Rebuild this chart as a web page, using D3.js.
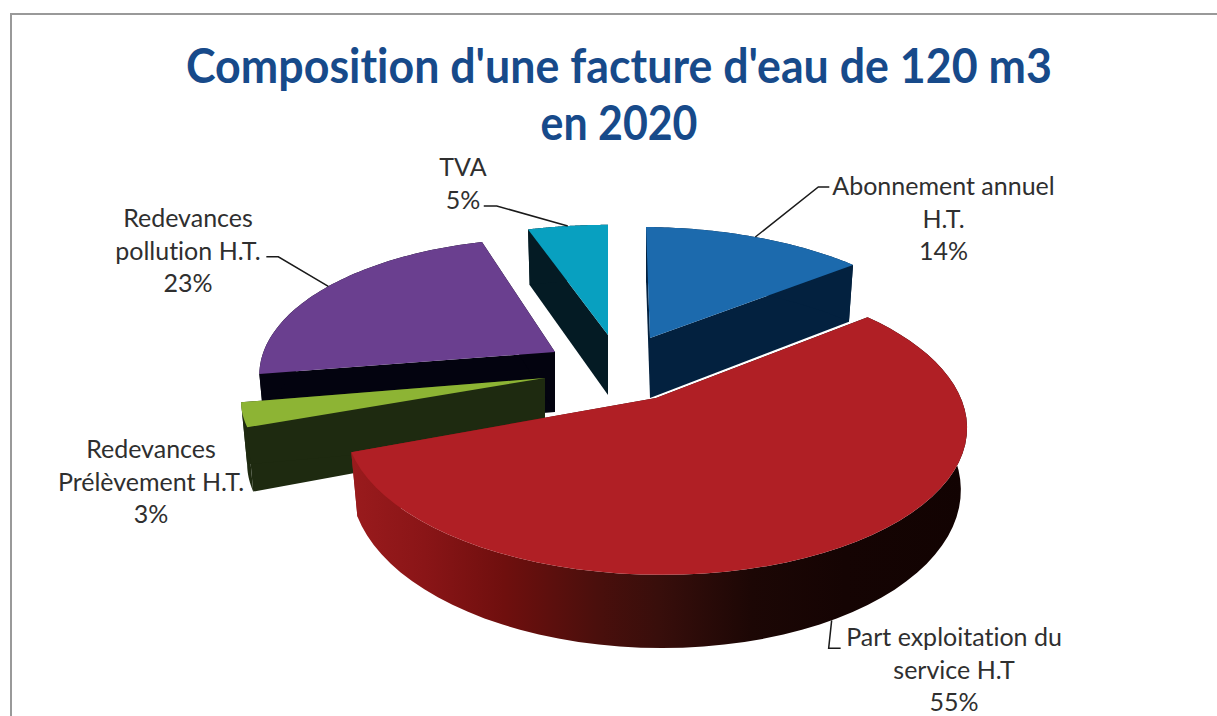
<!DOCTYPE html>
<html><head><meta charset="utf-8">
<script src="https://cdnjs.cloudflare.com/ajax/libs/d3/7.8.5/d3.min.js"></script>
<style>html,body{margin:0;background:#fff}svg{display:block}text{font-family:Lato,"Open Sans",sans-serif;font-variant-ligatures:none}</style>
</head><body><svg id="c" width="1217" height="716"></svg>
<script>
const categories=["Abonnement annuel H.T.","Part exploitation du service H.T","Redevances Prélèvement H.T.","Redevances pollution H.T.","TVA"];
const values=[14,55,3,23,5];
const titleLines=["Composition d'une facture d'eau de 120 m3","en 2020"];
const titleWidths=[866,157];
const labelLines=[["Abonnement annuel","H.T.","14%"],["Part exploitation du","service H.T","55%"],["Redevances","Prélèvement H.T.","3%"],["Redevances","pollution H.T.","23%"],["TVA","5%"]];
const topColors=["#1c6aad","#b01f25","#8db434","#6a3f8f","#08a0c0"];
const sideColors=["#03213f",null,"#1e2a10","#03030f","#041b24"];
// per-slice projection: apex position, ellipse radii, small shear/tilt (exploded 3D view)
const geom=[
 {ax:650,ay:338,R:297.6,Q:131,S:-4.7,T:-2.6},
 {ax:656,ay:398,R:306,Q:145,S:0,T:-3},
 {ax:545,ay:378,R:299,Q:125,S:0,T:0},
 {ax:555,ay:352,R:290,Q:134.2,S:4.3,T:-3.9},
 {ax:608,ay:335,R:303,Q:130,S:0,T:0}];
const persp=0.18, depth=60, baseShrink=0.98;
const labelPos=[[943.5,195],[954,646],[151,458],[188,227],[463,176]];
const leaderFrac=[.5,.505,.5,.5,.5];
const leaders=[[[63,-50],[74,-50]],[[-3,28],[9,28]],null,[[-50,-29.5],[-62,-29.5]],[[-71,-20],[-84,-20]]];
const order=[4,0,3,2,1];

const svg=d3.select("#c");
const defs=svg.append("defs");
const gr=defs.append("linearGradient").attr("id","redSide").attr("gradientUnits","userSpaceOnUse").attr("x1",350).attr("x2",968).attr("y1",0).attr("y2",0);
[[0,"#9a1b1d"],[.12,"#8a1517"],[.25,"#6f0f0e"],[.4,"#4a0f0c"],[.5,"#380e0b"],[.65,"#1c0705"],[.8,"#150403"],[1,"#120302"]]
 .forEach(s=>gr.append("stop").attr("offset",s[0]).attr("stop-color",s[1]));

// frame
svg.append("path").attr("d","M11,716V14H1217").attr("fill","none").attr("stroke","#999").attr("stroke-width",2);

const pie=d3.pie().sort(null).value(d=>d)(values);
const proj=(g,t,r,bottom)=>{const X=r*Math.sin(t),Y=r*Math.cos(t),w=1+persp*Y,k=bottom?baseShrink:1;
 const d=w>1?depth/Math.sqrt(w):depth/w;
 return [g.ax+k*(g.R*X+g.S*Y)/w,g.ay-(g.Q*Y+g.T*X)/w+(bottom?d:0)];};
const line=d3.line();
const arcPts=(g,a0,a1,b)=>d3.range(0,61).map(i=>proj(g,a0+(a1-a0)*i/60,1,b));

const marks=svg.append("g");
order.forEach(i=>{
 const p=pie[i],g=geom[i],a0=p.startAngle,a1=p.endAngle;
 const fill=sideColors[i]||"url(#redSide)";
 const top0=[g.ax,g.ay],bot0=proj(g,0,0,true);
 const faces=[
  [top0,proj(g,a0,1,false),proj(g,a0,1,true),bot0],
  [top0,proj(g,a1,1,false),proj(g,a1,1,true),bot0],
  [...arcPts(g,a0,a1,false),...arcPts(g,a1,a0,true)]];
 faces.forEach(f=>marks.append("path").attr("d",line(f)+"Z").attr("fill",fill));
 marks.append("path").attr("d",line([top0,...arcPts(g,a0,a1,false)])+"Z").attr("fill",topColors[i]);
});

// leaders
pie.forEach((p,i)=>{ if(!leaders[i])return;
 const m=p.startAngle+(p.endAngle-p.startAngle)*leaderFrac[i],s=proj(geom[i],m,1,i===1);
 svg.append("path").attr("d",line([s,...leaders[i].map(o=>[s[0]+o[0],s[1]+o[1]])])).attr("fill","none").attr("stroke","#1a1a1a").attr("stroke-width",1.5);
});

// labels
labelLines.forEach((ls,i)=>ls.forEach((t,j)=>svg.append("text").attr("x",labelPos[i][0]).attr("y",labelPos[i][1]+j*32.5)
 .attr("text-anchor","middle").attr("font-size",25).attr("fill","#2f2f2f").text(t)));

titleLines.forEach((t,j)=>svg.append("text").attr("x",619).attr("y",83+j*57).attr("text-anchor","middle")
 .attr("font-size",48).attr("font-weight",700).attr("fill","#174a8a")
 .attr("textLength",titleWidths[j]).attr("lengthAdjust","spacingAndGlyphs").text(t));
</script></body></html>
